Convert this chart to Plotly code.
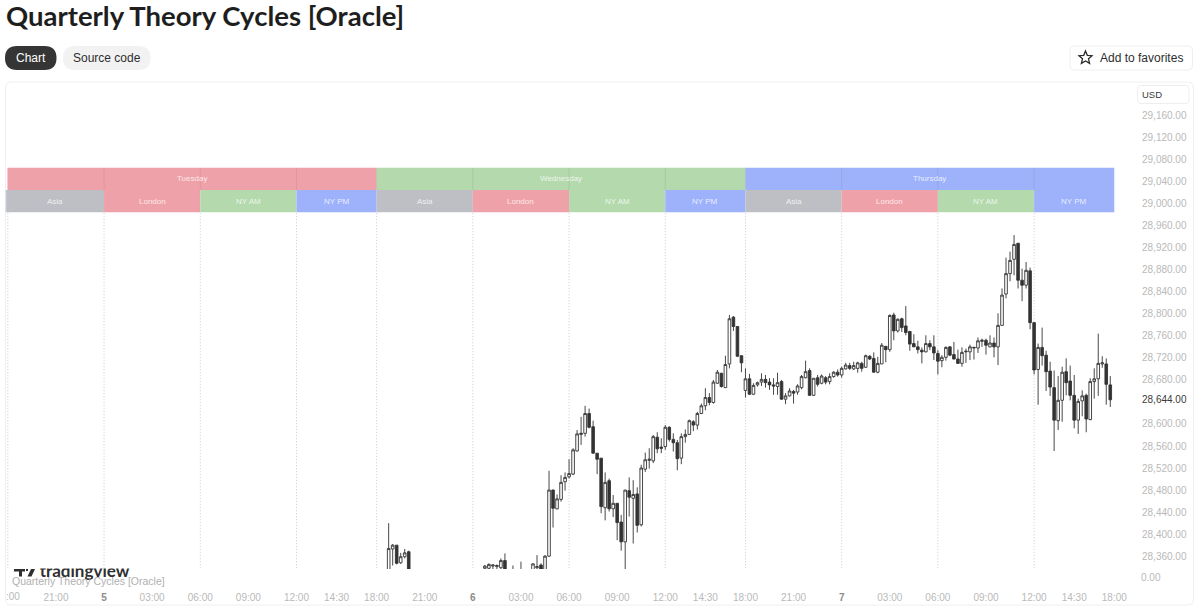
import plotly.graph_objects as go

W, H = 1200, 615

# 15-minute bars, numbered along a gapless session axis
bar_index = [0, 1, 2, 3, 4, 5, 24, 25, 26, 27, 28, 29, 31, 33, 36, 37, 38, 39] + list(range(40, 181))

open_px = [
    28326, 28373, 28380, 28348, 28359, 28368,
    28338, 28338, 28342, 28341, 28339, 28352, 28329, 28326, 28329, 28339, 28344, 28323,
    28360, 28480, 28446, 28463, 28495, 28504, 28509, 28551, 28581, 28583, 28619, 28595,
    28547, 28538, 28448, 28497, 28446, 28456, 28422, 28386, 28479, 28465, 28473, 28417,
    28518, 28534, 28533, 28576, 28558, 28559, 28594, 28572, 28566, 28538,
    28577, 28581, 28604, 28598, 28619, 28633, 28648, 28639, 28674, 28692,
    28666, 28709, 28794, 28777, 28724, 28661, 28682, 28654, 28671, 28676,
    28681, 28676, 28671, 28668, 28677, 28645, 28651, 28659, 28658,
    28666, 28684, 28697, 28652, 28684, 28674, 28684, 28677, 28686, 28694,
    28689, 28700, 28706, 28700, 28701, 28710, 28703, 28723, 28719, 28694,
    28709, 28741, 28735, 28798, 28769, 28791, 28778, 28768, 28746, 28740,
    28734, 28731, 28746, 28740, 28728, 28715, 28721, 28740, 28726, 28718,
    28710, 28731, 28731, 28738, 28738,
    28750, 28752, 28740, 28747, 28740, 28779, 28836, 28873, 28899, 28928,
    28861, 28852, 28878, 28784, 28699, 28739, 28725, 28696, 28666, 28606,
    28643, 28695, 28678, 28652, 28607, 28642, 28652, 28608, 28677, 28682,
    28709, 28709, 28671,
]
high_px = [
    28420, 28382, 28380, 28366, 28373, 28370,
    28344, 28347, 28345, 28345, 28356, 28365, 28343, 28350, 28347, 28362, 28347, 28362,
    28515, 28481, 28472, 28507, 28512, 28536, 28556, 28589, 28613, 28633, 28628, 28606,
    28547, 28538, 28512, 28501, 28471, 28456, 28435, 28480, 28503, 28498, 28485, 28526,
    28548, 28556, 28580, 28585, 28574, 28598, 28596, 28583, 28571, 28583,
    28590, 28608, 28607, 28622, 28637, 28665, 28656, 28680, 28698, 28693,
    28724, 28798, 28796, 28777, 28724, 28701, 28691, 28674, 28677, 28692,
    28689, 28683, 28683, 28693, 28680, 28656, 28665, 28662, 28672,
    28689, 28715, 28701, 28683, 28689, 28690, 28687, 28692, 28696, 28699,
    28704, 28711, 28711, 28713, 28713, 28713, 28726, 28725, 28730, 28722,
    28747, 28741, 28799, 28802, 28792, 28793, 28814, 28769, 28763, 28751,
    28739, 28761, 28752, 28761, 28734, 28725, 28741, 28741, 28749, 28735,
    28739, 28737, 28744, 28740, 28757,
    28755, 28755, 28761, 28757, 28801, 28846, 28902, 28913, 28943, 28929,
    28882, 28894, 28884, 28785, 28746, 28775, 28733, 28713, 28697, 28687,
    28704, 28719, 28706, 28689, 28646, 28661, 28655, 28683, 28701, 28764,
    28723, 28719, 28687,
]
low_px = [
    28320, 28343, 28345, 28346, 28356, 28320,
    28328, 28335, 28335, 28335, 28335, 28323, 28329, 28326, 28329, 28329, 28323, 28323,
    28359, 28412, 28445, 28459, 28479, 28501, 28507, 28550, 28562, 28577, 28592, 28546,
    28509, 28438, 28425, 28441, 28431, 28389, 28370, 28329, 28432, 28383, 28403, 28414,
    28513, 28519, 28529, 28547, 28547, 28553, 28568, 28550, 28516, 28527,
    28566, 28581, 28587, 28590, 28618, 28625, 28634, 28637, 28673, 28666,
    28666, 28701, 28769, 28722, 28694, 28648, 28653, 28653, 28668, 28669,
    28666, 28662, 28653, 28653, 28644, 28636, 28650, 28637, 28653,
    28663, 28683, 28651, 28651, 28668, 28672, 28672, 28672, 28684, 28686,
    28684, 28699, 28698, 28698, 28693, 28695, 28702, 28716, 28694, 28692,
    28709, 28712, 28731, 28752, 28766, 28767, 28761, 28733, 28740, 28728,
    28710, 28730, 28734, 28716, 28690, 28703, 28715, 28723, 28717, 28710,
    28704, 28711, 28716, 28717, 28729,
    28740, 28726, 28739, 28721, 28707, 28779, 28828, 28859, 28870, 28846,
    28823, 28846, 28772, 28690, 28635, 28706, 28660, 28651, 28551, 28589,
    28604, 28652, 28643, 28592, 28582, 28614, 28585, 28607, 28646, 28651,
    28702, 28635, 28631,
]
close_px = [
    28374, 28380, 28347, 28359, 28366, 28326,
    28342, 28345, 28344, 28343, 28352, 28326, 28335, 28327, 28346, 28341, 28323, 28360,
    28480, 28447, 28464, 28494, 28503, 28510, 28553, 28582, 28583, 28619, 28594, 28547,
    28536, 28450, 28494, 28446, 28456, 28421, 28386, 28480, 28467, 28472, 28416, 28520,
    28535, 28536, 28577, 28555, 28556, 28594, 28572, 28566, 28537, 28577,
    28581, 28606, 28598, 28619, 28633, 28648, 28639, 28676, 28694, 28668,
    28708, 28791, 28777, 28723, 28711, 28682, 28654, 28670, 28675, 28681,
    28675, 28671, 28669, 28675, 28645, 28651, 28660, 28656, 28669,
    28686, 28695, 28652, 28683, 28672, 28687, 28676, 28686, 28694, 28689,
    28701, 28707, 28701, 28706, 28711, 28701, 28724, 28718, 28694, 28710,
    28743, 28735, 28797, 28769, 28790, 28775, 28766, 28745, 28740, 28735,
    28731, 28746, 28740, 28729, 28714, 28721, 28739, 28725, 28718, 28710,
    28730, 28732, 28740, 28739, 28751,
    28752, 28743, 28747, 28740, 28779, 28834, 28873, 28897, 28926, 28861,
    28852, 28879, 28784, 28698, 28739, 28724, 28695, 28667, 28607, 28643,
    28694, 28675, 28652, 28607, 28641, 28651, 28609, 28677, 28682, 28710,
    28711, 28672, 28644,
]

# Price scale; the last-price label takes the place of the 28,640 tick
last_price = 28644
price_ticks = [v for v in range(28360, 29161, 40) if v != 28640]

# Time scale
DAY = '<span style="color:#8c8c8c"><b>%s</b></span>'
time_ticks = [-83, -71, -59, -47, -35, -23, -13, -3, 9, 21, 33, 45, 57, 69, 79, 89,
              101, 113, 125, 137, 149, 161, 171, 181]
time_labels = ["21:00", DAY % "5", "03:00", "06:00", "09:00", "12:00", "14:30", "18:00",
               "21:00", DAY % "6", "03:00", "06:00", "09:00", "12:00", "14:30", "18:00",
               "21:00", DAY % "7", "03:00", "06:00", "09:00", "12:00", "14:30", "18:00"]

# Session boxes, two rows
RED, GREEN, BLUE, GREY = "#efa1a9", "#b3d9ad", "#9db2fb", "#bdbfc4"
day_names = ["Tuesday", "Wednesday", "Thursday"]
day_edges = [-95.1, -3, 89, 181]
day_colors = [RED, GREEN, BLUE]
session_names = ["", "Asia", "London", "NY AM", "NY PM", "Asia", "London", "NY AM", "NY PM",
                 "Asia", "London", "NY AM", "NY PM"]
session_edges = [-95.58, -95.4, -71, -47, -23, -3, 21, 45, 69, 89, 113, 137, 161, 181]
session_colors = [BLUE, GREY, RED, GREEN, BLUE, GREY, RED, GREEN, BLUE, GREY, RED, GREEN, BLUE]
session_lines = [-95, -71, -47, -23, -3, 21, 45, 69, 89, 113, 137, 161]
BOX_TOP, BOX_MID, BOX_BOTTOM = 29065, 29025, 28984.5

AXIS_GREY = "#b9b9b9"
UI_FONT = "Liberation Sans"


def px(x):
    return x / W


def py(y):
    return 1 - y / H


def rounded(x0, y0, x1, y1, r, fill, line="rgba(0,0,0,0)", width=1):
    a, b, c, d = px(x0), py(y0), px(x1), py(y1)
    rx, ry = r / W, r / H
    path = (f"M {a+rx} {b} L {c-rx} {b} Q {c} {b} {c} {b-ry} L {c} {d+ry} Q {c} {d} {c-rx} {d} "
            f"L {a+rx} {d} Q {a} {d} {a} {d+ry} L {a} {b-ry} Q {a} {b} {a+rx} {b} Z")
    return dict(type="path", xref="paper", yref="paper", path=path, fillcolor=fill,
                line=dict(color=line, width=width), layer="below")


def polygon(points, fill="rgba(0,0,0,0)", line="rgba(0,0,0,0)", width=0):
    return dict(type="path", xref="paper", yref="paper",
                path="M " + " L ".join(f"{px(a)} {py(b)}" for a, b in points) + " Z",
                fillcolor=fill, line=dict(color=line, width=width))


def note(x, y, text, size, color, anchor="left", family=UI_FONT):
    return dict(xref="paper", yref="paper", x=px(x), y=py(y), text=text, showarrow=False,
                xanchor=anchor, yanchor="middle", font=dict(size=size, color=color, family=family),
                borderpad=0, borderwidth=0)


shapes = [
    rounded(5.5, 82, 1193.5, 605, 6, "#ffffff", "#efefef"),
    rounded(5, 46, 56.5, 70, 12, "#353535"),
    rounded(63, 46, 150.5, 70, 12, "#f2f2f2"),
    rounded(1070, 46, 1192.5, 70, 5, "#ffffff", "#eeeeee"),
    rounded(1137.5, 85.5, 1189, 103.5, 3, "#ffffff", "#eeeeee"),
]

# Favourites star outline
shapes.append(polygon(
    [(1085.5, 51), (1087.3, 55.3), (1092, 55.7), (1088.5, 58.8), (1089.6, 63.4),
     (1085.5, 61), (1081.4, 63.4), (1082.5, 58.8), (1079, 55.7), (1083.7, 55.3)],
    line="#2b2b2b", width=1.3))

# Logo glyphs next to the wordmark: bar and stem, dot, slanted stroke
shapes.append(polygon([(14, 569), (25, 569), (25, 571.5), (22, 571.5), (22, 576.5),
                       (19, 576.5), (19, 571.5), (14, 571.5)], fill="#2f2f2f"))
shapes.append(polygon([(26, 569), (28, 569), (28, 571), (26, 571)], fill="#2f2f2f"))
shapes.append(polygon([(31, 569), (35, 569), (31.5, 576.5), (27.5, 576.5)], fill="#2f2f2f"))

for x in session_lines:
    shapes.append(dict(type="line", xref="x", yref="y", x0=x, x1=x, y0=28300, y1=BOX_BOTTOM,
                       line=dict(color="#c9c9c9", width=1, dash="1px,2px"), layer="below"))
for i, color in enumerate(day_colors):
    shapes.append(dict(type="rect", xref="x", yref="y", x0=day_edges[i], x1=day_edges[i + 1],
                       y0=BOX_MID, y1=BOX_TOP, fillcolor=color, line_width=0, layer="below"))
for i, color in enumerate(session_colors):
    shapes.append(dict(type="rect", xref="x", yref="y", x0=session_edges[i], x1=session_edges[i + 1],
                       y0=BOX_BOTTOM, y1=BOX_MID, fillcolor=color, line_width=0, layer="below"))
for x in session_lines[1:]:
    shapes.append(dict(type="line", xref="x", yref="y", x0=x, x1=x, y0=BOX_MID, y1=BOX_TOP,
                       line=dict(color="rgba(90,90,90,0.12)", width=1), layer="below"))

annotations = [
    note(5.5, 15, "<b>Quarterly Theory Cycles [Oracle]</b>", 27.5, "#1e1e1e", family="Lato"),
    note(30.7, 58, "Chart", 12, "#ffffff", "center"),
    note(106.7, 58, "Source code", 12, "#2e2e2e", "center"),
    note(1141.5, 58, "Add to favorites", 12, "#2e2e2e", "center"),
    note(1142, 94.5, "USD", 9.5, "#3a3a3a"),
    note(1141, 577, "0.00", 10, AXIS_GREY),
    note(5.5, 596.5, ":00", 10, AXIS_GREY),
    note(12, 581, "Quarterly Theory Cycles [Oracle]", 10.5, "#b0b0b0"),
]
for i, name in enumerate(day_names):
    annotations.append(dict(xref="x", yref="y", x=(day_edges[i] + day_edges[i + 1]) / 2,
                            y=(BOX_MID + BOX_TOP) / 2, text=name, showarrow=False,
                            font=dict(size=8, color="rgba(255,255,255,0.78)", family=UI_FONT)))
for i, name in enumerate(session_names):
    if name:
        annotations.append(dict(xref="x", yref="y", x=(session_edges[i] + session_edges[i + 1]) / 2,
                                y=(BOX_BOTTOM + BOX_MID) / 2, text=name, showarrow=False,
                                font=dict(size=8, color="rgba(255,255,255,0.78)", family=UI_FONT)))

fig = go.Figure()
fig.add_trace(go.Candlestick(
    x=bar_index, open=open_px, high=high_px, low=low_px, close=close_px,
    increasing=dict(line=dict(color="#333333", width=0.9), fillcolor="#ffffff"),
    decreasing=dict(line=dict(color="#333333", width=0.9), fillcolor="#333333"),
    whiskerwidth=0, showlegend=False, hoverinfo="skip",
))

# Wordmark sits under the pane's lower edge, so its top is cut by the small axes below
fig.add_trace(go.Scatter(
    x=[78.5], y=[17.5], mode="text", text=["<b>tradingview</b>"],
    textposition="middle center", cliponaxis=True, showlegend=False, hoverinfo="skip",
    textfont=dict(size=17, color="#2f2f2f", family="Lato"),
    xaxis="x2", yaxis="y2",
))

price_text = [f"{v:,.2f}" for v in price_ticks]
tick_vals = price_ticks + [last_price]
tick_text = price_text + [f'<span style="color:#3a3a3a">{last_price:,.2f}</span>']

fig.update_layout(
    width=W, height=H, margin=dict(l=0, r=0, t=0, b=0), autosize=False,
    paper_bgcolor="#ffffff", plot_bgcolor="rgba(0,0,0,0)",
    boxgap=0.35, boxgroupgap=0,
    shapes=shapes, annotations=annotations, showlegend=False,
    font=dict(family=UI_FONT, size=10, color=AXIS_GREY),
    xaxis=dict(
        domain=[px(5.5), px(1135)], range=[-95.58, 186.17], rangeslider=dict(visible=False),
        tickmode="array", tickvals=time_ticks, ticktext=time_labels, tickangle=0,
        ticks="", showgrid=False, zeroline=False, showline=False, ticklabelstandoff=21,
        tickfont=dict(size=10, color=AXIS_GREY, family=UI_FONT), fixedrange=True,
    ),
    yaxis=dict(
        domain=[py(569), py(83)], range=[28336.7, 29219.1], side="right",
        tickmode="array", tickvals=tick_vals, ticktext=tick_text,
        ticks="", showgrid=False, zeroline=False, showline=False, ticklabelstandoff=6,
        tickfont=dict(size=10, color=AXIS_GREY, family=UI_FONT), fixedrange=True,
    ),
    xaxis2=dict(domain=[px(6), px(200)], range=[0, 194], visible=False, anchor="y2", fixedrange=True),
    yaxis2=dict(domain=[py(590), py(568.5)], range=[0, 21.5], visible=False, anchor="x2", fixedrange=True),
)

fig.write_html("out.html", config=dict(displayModeBar=False))
